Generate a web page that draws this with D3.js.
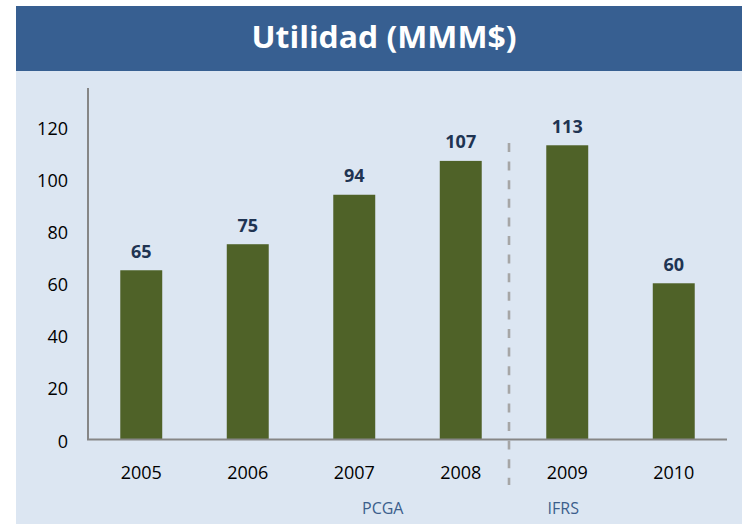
<!DOCTYPE html>
<html>
<head>
<meta charset="utf-8">
<script src="https://cdn.jsdelivr.net/npm/d3@7"></script>
<style>
  body { margin: 0; background: #ffffff; }
  svg { display: block; }
</style>
</head>
<body>
<svg id="chart" width="742" height="524"></svg>
<script>
// ---- data ----
const categories = ["2005", "2006", "2007", "2008", "2009", "2010"];
const values = [65, 75, 94, 107, 113, 60];
const yTicks = [0, 20, 40, 60, 80, 100, 120];
const title = "Utilidad (MMM$)";
const groupLabels = [
  { text: "PCGA", cat: "2007", shift: 28.5 },
  { text: "IFRS", cat: "2009", shift: -4 }
];
const separatorAfter = "2008";

// ---- layout ----
const W = 742, H = 524;
const svg = d3.select("#chart");
const fontFam = "'Open Sans', 'Liberation Sans', sans-serif";

// background panel
svg.append("rect").attr("x", 16).attr("y", 71).attr("width", W - 16).attr("height", H - 71)
  .attr("fill", "#dce6f2");
// title bar
svg.append("rect").attr("x", 16).attr("y", 6).attr("width", W - 16).attr("height", 65)
  .attr("fill", "#375f91");
svg.append("text")
  .attr("x", 384).attr("y", 48)
  .attr("text-anchor", "middle")
  .attr("font-family", fontFam)
  .attr("font-weight", "bold")
  .attr("font-size", 30)
  .attr("fill", "#ffffff")
  .attr("textLength", 265)
  .attr("lengthAdjust", "spacingAndGlyphs")
  .text(title);

const x0 = 88, x1 = 727, yBase = 439.5, yTop = 88;
const x = d3.scaleBand().domain(categories).range([x0, x1]).paddingInner(0.606).paddingOuter(0.303);
const y = d3.scaleLinear().domain([0, 135]).range([yBase, yTop]);

const g = svg.append("g");

// bars
g.selectAll("rect.bar").data(values).join("rect")
  .attr("class", "bar")
  .attr("x", (d, i) => x(categories[i]))
  .attr("width", x.bandwidth())
  .attr("y", d => y(d))
  .attr("height", d => y(0) - y(d))
  .attr("fill", "#4f6228");

// value labels
g.selectAll("text.val").data(values).join("text")
  .attr("class", "val")
  .attr("x", (d, i) => x(categories[i]) + x.bandwidth() / 2)
  .attr("y", d => y(d) - 12.5)
  .attr("text-anchor", "middle")
  .attr("font-family", fontFam)
  .attr("font-weight", "bold")
  .attr("font-size", 18)
  .attr("fill", "#1f3452")
  .text(d => d3.format("d")(d));

// y axis
const yAxis = d3.axisLeft(y).tickValues(yTicks).tickSize(0).tickPadding(20);
const ya = svg.append("g").attr("transform", `translate(${x0},0)`).call(yAxis);
ya.select(".domain").remove();
ya.selectAll("text").attr("font-family", fontFam).attr("font-size", 18).attr("fill", "#000")
  .attr("dy", "0.42em");
svg.append("line").attr("x1", x0).attr("x2", x0).attr("y1", yTop).attr("y2", yBase)
  .attr("stroke", "#868686").attr("stroke-width", 2);

// x axis
const xAxis = d3.axisBottom(x).tickSize(0).tickPadding(0);
const xa = svg.append("g").attr("transform", `translate(0,${yBase})`).call(xAxis);
xa.select(".domain").remove();
xa.selectAll("text").attr("font-family", fontFam).attr("font-size", 18).attr("fill", "#000")
  .attr("dy", 0).attr("y", 39.5);
svg.append("line").attr("x1", x0 - 1).attr("x2", x1).attr("y1", yBase).attr("y2", yBase)
  .attr("stroke", "#868686").attr("stroke-width", 2);

// separator dashed line
const iSep = categories.indexOf(separatorAfter);
const sepX = (x(categories[iSep]) + x.bandwidth() + x(categories[iSep + 1])) / 2 - 5;
svg.append("line").attr("x1", sepX).attr("x2", sepX).attr("y1", 143).attr("y2", 485)
  .attr("stroke", "#a6a6a6").attr("stroke-width", 2.6).attr("stroke-dasharray", "9,9.6");

// group labels
svg.selectAll("text.grp").data(groupLabels).join("text")
  .attr("class", "grp")
  .attr("x", d => x(d.cat) + x.bandwidth() / 2 + d.shift)
  .attr("y", 514)
  .attr("text-anchor", "middle")
  .attr("font-family", fontFam)
  .attr("font-size", 16)
  .attr("fill", "#3b5e8c")
  .text(d => d.text);
</script>
</body>
</html>
